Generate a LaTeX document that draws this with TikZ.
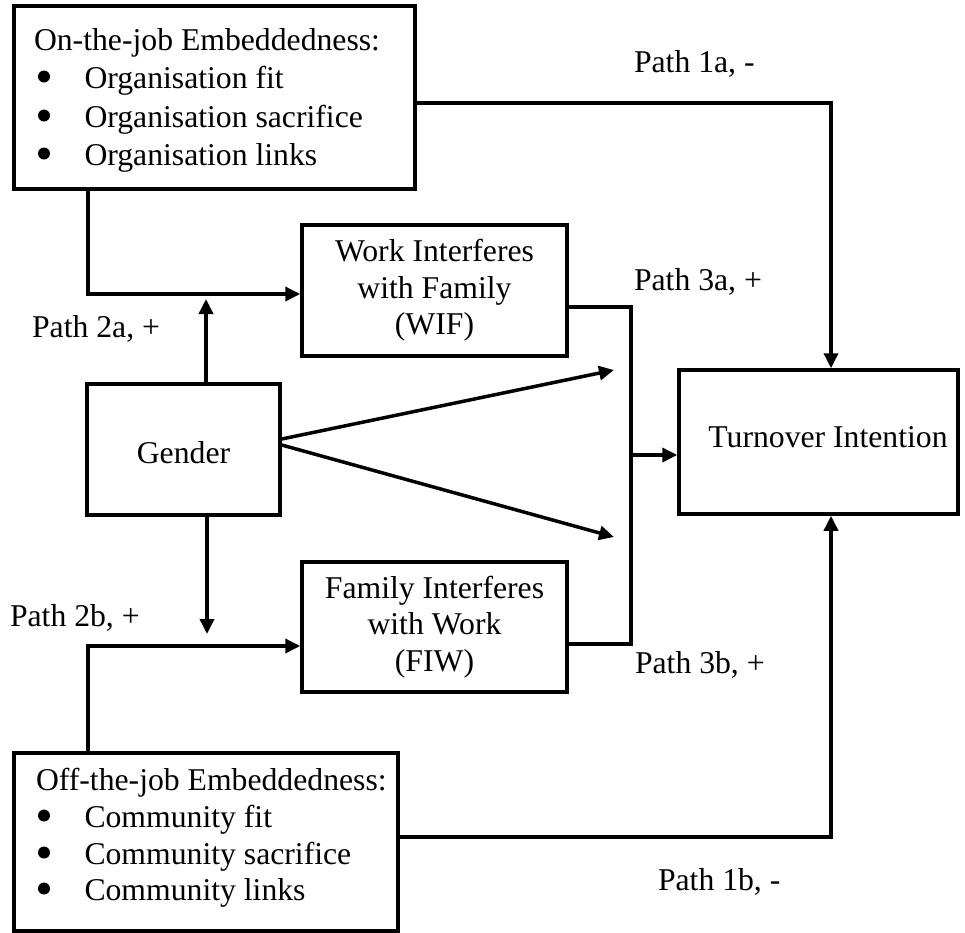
\documentclass[tikz,border=0pt]{standalone}
\usepackage{fontspec}
\setmainfont{Liberation Serif}
\usetikzlibrary{arrows.meta}
\begin{document}
\begin{tikzpicture}[x=1pt,y=-1pt,
  txt/.style={font=\fontsize{31.7pt}{36.5pt}\selectfont, inner sep=0pt, outer sep=0pt},
  lbl/.style={txt, anchor=base west},
  box/.style={draw, line width=3.5pt, inner sep=0pt, outer sep=1.75pt, align=center,
              font=\fontsize{31.7pt}{36.5pt}\selectfont},
  ln/.style={line width=3.5pt},
  arr/.style={line width=3.5pt, -{Triangle[length=15pt,width=14pt]}},
  dot/.style={fill=black}
]
\useasboundingbox (0,0) rectangle (965,932);

% ---- boxes ----
\node[box, minimum width=401pt, minimum height=183pt] (onjob) at (214.5,97.5) {};
\node[box, minimum width=384pt, minimum height=178pt] (offjob) at (206,842) {};
\node[box, minimum width=265pt, minimum height=131pt] (wif) at (434.5,290.5) {Work Interferes\\with Family\\(WIF)};
\node[box, minimum width=265pt, minimum height=130pt] (fiw) at (434.5,627) {Family Interferes\\with Work\\(FIW)};
\node[box, minimum width=193pt, minimum height=131pt] (gender) at (183.5,449.5) {};
\node[box, minimum width=279pt, minimum height=144pt] (turn) at (818.5,442) {};

% ---- box texts ----
\node[txt] (genderT) at (183.5,453) {Gender};
\node[txt] (turnT) at (828,437) {Turnover Intention};

% on-the-job list
\node[lbl] (onjobT) at (34,50) {On-the-job Embeddedness:};
\node[lbl] (onjobA) at (84.5,88) {Organisation fit};
\node[lbl] (onjobB) at (84.5,127) {Organisation sacrifice};
\node[lbl] (onjobC) at (84.5,165) {Organisation links};
\fill[dot] (44,76.5) circle (6pt);
\fill[dot] (44,115.5) circle (6pt);
\fill[dot] (44,153.5) circle (6pt);

% off-the-job list
\node[lbl] (offjobT) at (36,790) {Off-the-job Embeddedness:};
\node[lbl] (offjobA) at (84.5,827) {Community fit};
\node[lbl] (offjobB) at (84.5,864) {Community sacrifice};
\node[lbl] (offjobC) at (84.5,900) {Community links};
\fill[dot] (44,815.5) circle (6pt);
\fill[dot] (44,852.5) circle (6pt);
\fill[dot] (44,888.5) circle (6pt);

% ---- path labels ----
\node[lbl] (p1a) at (634,72) {Path 1a, -};
\node[lbl] (p3a) at (634,290) {Path 3a, +};
\node[txt, anchor=base east] (p2a) at (160,337) {Path 2a, +};
\node[lbl] (p2b) at (10,626) {Path 2b, +};
\node[lbl] (p3b) at (635,673) {Path 3b, +};
\node[lbl] (p1b) at (658,890) {Path 1b, -};

% ---- routing points ----
\coordinate (c2a) at (88,294);
\coordinate (t2a) at (206,299);
\coordinate (t2b) at (207,634);
\coordinate (c2b) at (88,646);
\coordinate (m3a) at (631,307);
\coordinate (m3b) at (631,644);
\coordinate (mj) at (631,455);
\coordinate (g3a) at (614,370);
\coordinate (g3b) at (614,537);
\coordinate (ga) at (0,439);
\coordinate (gb) at (0,445);
\coordinate (c1a) at (831,103);
\coordinate (c1b) at (831,837);

% ---- connectors ----
\draw[arr] (onjob.south -| c2a) |- (wif.west |- c2a);
\draw[arr] (gender.north -| t2a) -- (t2a);
\draw[arr] (gender.south -| t2b) -- (t2b);
\draw[arr] (offjob.north -| c2b) |- (fiw.west |- c2b);
\draw[ln] (wif.east |- m3a) -- (m3a) -- (m3b) -- (fiw.east |- m3b);
\draw[arr] (mj) -- (turn.west |- mj);
\draw[arr] (gender.east |- ga) -- (g3a);
\draw[arr] (gender.east |- gb) -- (g3b);
\draw[arr] (onjob.east |- c1a) -| (turn.north -| c1a);
\draw[arr] (offjob.east |- c1b) -| (turn.south -| c1b);
\end{tikzpicture}
\end{document}
